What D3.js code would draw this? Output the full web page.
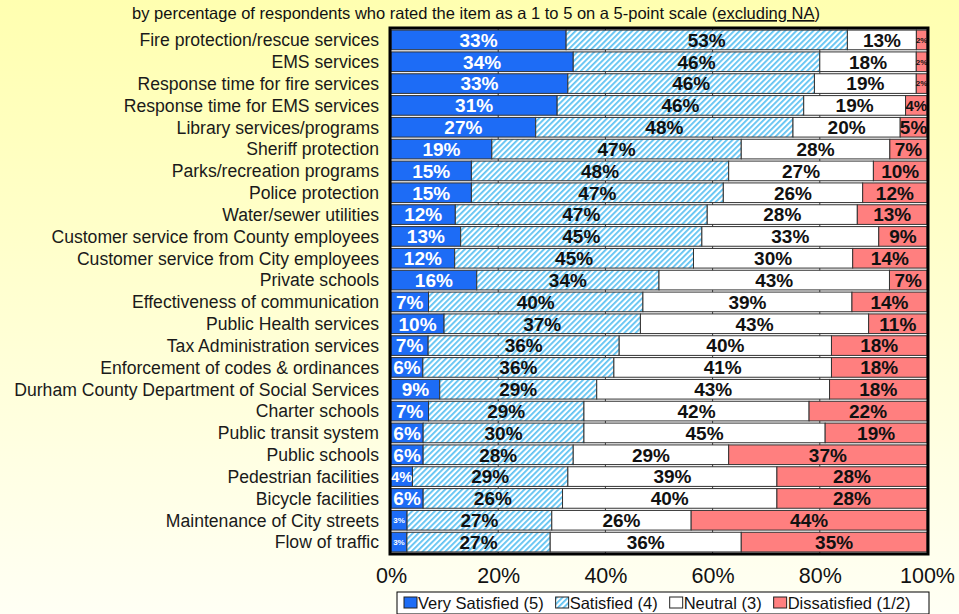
<!DOCTYPE html>
<html>
<head>
<meta charset="utf-8">
<script src="https://cdn.jsdelivr.net/npm/d3@7"></script>
<style>
  body { margin: 0; }
  svg { display: block; font-family: Arial, "Liberation Sans", sans-serif; }
</style>
</head>
<body>
<div id="chart"></div>
<script>
// rating items, top to bottom
const categories = [
  "Fire protection/rescue services", "EMS services", "Response time for fire services",
  "Response time for EMS services", "Library services/programs", "Sheriff protection",
  "Parks/recreation programs", "Police protection", "Water/sewer utilities",
  "Customer service from County employees", "Customer service from City employees",
  "Private schools", "Effectiveness of communication", "Public Health services",
  "Tax Administration services", "Enforcement of codes & ordinances",
  "Durham County Department of Social Services", "Charter schools", "Public transit system",
  "Public schools", "Pedestrian facilities", "Bicycle facilities",
  "Maintenance of City streets", "Flow of traffic"
];
const verySatisfied = [33, 34, 33, 31, 27, 19, 15, 15, 12, 13, 12, 16, 7, 10, 7, 6, 9, 7, 6, 6, 4, 6, 3, 3];
const satisfied     = [53, 46, 46, 46, 48, 47, 48, 47, 47, 45, 45, 34, 40, 37, 36, 36, 29, 29, 30, 28, 29, 26, 27, 27];
const neutral       = [13, 18, 19, 19, 20, 28, 27, 26, 28, 33, 30, 43, 39, 43, 40, 41, 43, 42, 45, 29, 39, 40, 26, 36];
const dissatisfied  = [2, 2, 2, 4, 5, 7, 10, 12, 13, 9, 14, 7, 14, 11, 18, 18, 18, 22, 19, 37, 28, 28, 44, 35];
const seriesNames = ["Very Satisfied (5)", "Satisfied (4)", "Neutral (3)", "Dissatisfied (1/2)"];
const tickValues = [0, 0.2, 0.4, 0.6, 0.8, 1];

const W = 959, H = 614;
const plotL = 391, plotR = 927, plotT = 29, plotB = 553;

const keys = ["vs", "s", "n", "d"];
const rows = categories.map((c, i) => ({
  cat: c, vs: verySatisfied[i], s: satisfied[i], n: neutral[i], d: dissatisfied[i]
}));

const svg = d3.select("#chart").append("svg").attr("width", W).attr("height", H);
const defs = svg.append("defs");

const grad = defs.append("linearGradient").attr("id", "bg")
  .attr("x1", 0).attr("y1", 0).attr("x2", 0).attr("y2", 1);
grad.append("stop").attr("offset", "0%").attr("stop-color", "#ffffb0");
grad.append("stop").attr("offset", "100%").attr("stop-color", "#fffff4");

const pat = defs.append("pattern").attr("id", "hatch")
  .attr("width", 4).attr("height", 4)
  .attr("patternUnits", "userSpaceOnUse")
  .attr("patternTransform", "rotate(45)");
pat.append("rect").attr("width", 4).attr("height", 4).attr("fill", "#ffffff");
pat.append("rect").attr("width", 1.8).attr("height", 4).attr("fill", "#5fc2f2");

svg.append("rect").attr("width", W).attr("height", H).attr("fill", "url(#bg)");

const fills = { vs: "#1d6cf6", s: "url(#hatch)", n: "#ffffff", d: "#ff7f7f" };
const textColor = { vs: "#ffffff", s: "#111111", n: "#111111", d: "#111111" };

const x = d3.scaleLinear().domain([0, 1]).range([plotL, plotR]);
const y = d3.scaleBand().domain(categories).range([plotT, plotB]).paddingInner(0.1).paddingOuter(0.05);

// subtitle
const sub = svg.append("text").attr("x", 476).attr("y", 19)
  .attr("text-anchor", "middle").attr("font-size", 16.5).attr("fill", "#111");
sub.append("tspan").text("by percentage of respondents who rated the item as a 1 to 5 on a 5-point scale (");
sub.append("tspan").attr("text-decoration", "underline").text("excluding NA");
sub.append("tspan").text(")");

// plot area
svg.append("rect").attr("x", plotL).attr("y", plotT)
  .attr("width", plotR - plotL).attr("height", plotB - plotT).attr("fill", "#ffffff");

svg.append("g").selectAll("line").data(tickValues.slice(1, -1)).join("line")
  .attr("x1", d => x(d)).attr("x2", d => x(d))
  .attr("y1", plotT).attr("y2", plotB)
  .attr("stroke", "#333").attr("stroke-width", 1);

const stack = d3.stack().keys(keys).offset(d3.stackOffsetExpand);
const layers = stack(rows);

const g = svg.append("g");
layers.forEach(layer => {
  const k = layer.key;
  const lg = g.append("g");
  lg.selectAll("rect").data(layer).join("rect")
    .attr("x", d => x(d[0]))
    .attr("y", d => y(d.data.cat))
    .attr("width", d => x(d[1]) - x(d[0]))
    .attr("height", y.bandwidth())
    .attr("fill", fills[k])
    .attr("stroke", "#333").attr("stroke-width", 1);

  lg.selectAll("text").data(layer).join("text")
    .attr("x", d => (x(d[0]) + x(d[1])) / 2)
    .attr("y", d => y(d.data.cat) + y.bandwidth() / 2)
    .attr("dy", "0.36em")
    .attr("text-anchor", "middle")
    .attr("font-weight", "bold")
    .attr("font-size", d => {
      const w = x(d[1]) - x(d[0]);
      return w >= 24 ? 19 : w >= 20 ? 15 : 8;
    })
    .attr("fill", textColor[k])
    .text(d => d.data[k] + "%");
});

// plot border
svg.append("rect").attr("x", plotL - 1).attr("y", plotT - 1)
  .attr("width", plotR - plotL + 2).attr("height", plotB - plotT + 2)
  .attr("fill", "none").attr("stroke", "#000").attr("stroke-width", 3);

// category labels
svg.append("g").selectAll("text").data(categories).join("text")
  .attr("x", 379)
  .attr("y", d => y(d) + y.bandwidth() / 2)
  .attr("dy", "0.36em")
  .attr("text-anchor", "end")
  .attr("font-size", 17.6)
  .attr("fill", "#1a1a1a")
  .text(d => d);

// x axis labels
const xAxis = d3.axisBottom(x).tickValues(tickValues).tickFormat(d3.format(".0%")).tickSize(0).tickPadding(0);
const ax = svg.append("g").attr("transform", `translate(0,${plotB + 15})`).call(xAxis);
ax.select(".domain").remove();
ax.selectAll("text").attr("font-size", 21.5).attr("fill", "#111").attr("font-family", "Arial, 'Liberation Sans', sans-serif");

// legend
const legX = 397, legY = 592, legW = 532, legH = 22;
svg.append("rect").attr("x", legX).attr("y", legY).attr("width", legW).attr("height", legH)
  .attr("fill", "#ffffff").attr("stroke", "#000").attr("stroke-width", 1);
const legItems = svg.append("g").attr("transform", `translate(${legX + 7},${legY + legH / 2})`);
let cx = 0;
seriesNames.forEach((name, i) => {
  const it = legItems.append("g").attr("transform", `translate(${cx},0)`);
  it.append("rect").attr("x", 0).attr("y", -6).attr("width", 13).attr("height", 11)
    .attr("fill", fills[keys[i]]).attr("stroke", "#222").attr("stroke-width", 1);
  const t = it.append("text").attr("x", 14).attr("dy", "0.36em")
    .attr("font-size", 16.5).attr("fill", "#111").text(name);
  cx += 14 + t.node().getComputedTextLength() + 12;
});
</script>
</body>
</html>
